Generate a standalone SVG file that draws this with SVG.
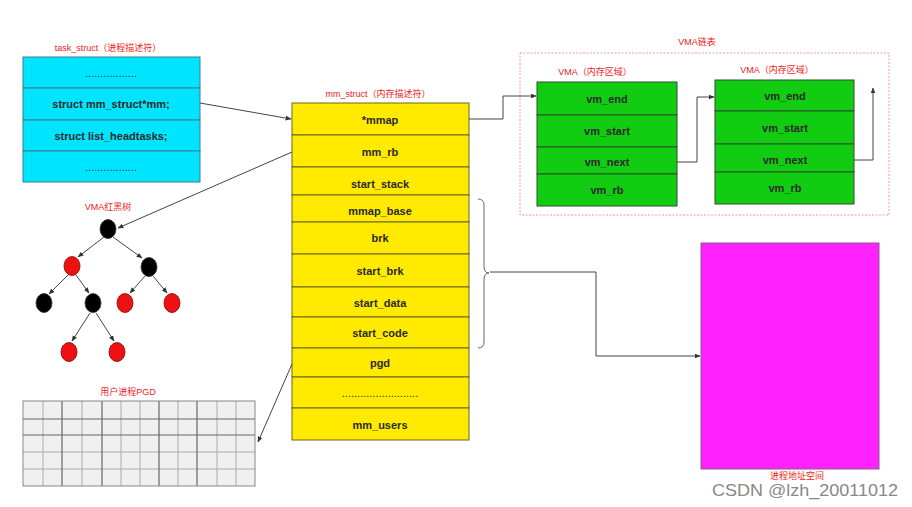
<svg xmlns="http://www.w3.org/2000/svg" width="912" height="507" viewBox="0 0 912 507">
<defs>
<marker id="arr" viewBox="0 0 10 10" refX="9" refY="5" markerWidth="6" markerHeight="6" orient="auto-start-reverse" markerUnits="userSpaceOnUse">
<path d="M0,1 L10,5 L0,9 z" fill="#333"/>
</marker>
<style>
.t{font-family:"Liberation Sans","Noto Sans CJK SC",sans-serif;font-size:11px;font-weight:bold;fill:#2a2a2a;text-anchor:middle;dominant-baseline:central}
.ti{font-family:"Liberation Sans","Noto Sans CJK SC",sans-serif;font-size:9px;fill:#f02020;text-anchor:middle;dominant-baseline:central}
.cy{fill:#00E5FF;stroke:#3b7f8f;stroke-width:1}
.ye{fill:#FFEA00;stroke:#6b6520;stroke-width:1}
.gr{fill:#11CC11;stroke:#2f4f2f;stroke-width:1}
.c{fill:none;stroke:#444;stroke-width:1}
.rb{fill:#ee1111;stroke:#800;stroke-width:0.8}
.bk{fill:#000;stroke:#333;stroke-width:0.8}
.g1{stroke:#aaa;stroke-width:1}
.g2{stroke:#666;stroke-width:1.2}
</style>
</defs>
<rect width="912" height="507" fill="#fff"/>

<g id="task_struct">
<text class="ti" x="108" y="48">task_struct（进程描述符）</text>
<rect class="cy" x="23" y="57" width="177" height="31"/>
<rect class="cy" x="23" y="88" width="177" height="32"/>
<rect class="cy" x="23" y="120" width="177" height="31"/>
<rect class="cy" x="23" y="151" width="177" height="31"/>
<text class="t" x="111" y="73" style="font-weight:normal">.................</text>
<text class="t" x="111" y="104">struct mm_struct*mm;</text>
<text class="t" x="111" y="136">struct list_headtasks;</text>
<text class="t" x="111" y="167" style="font-weight:normal">.................</text>
</g>

<g id="mm_struct">
<text class="ti" x="378" y="94">mm_struct（内存描述符）</text>
<rect class="ye" x="292" y="103" width="177" height="32"/>
<rect class="ye" x="292" y="135" width="177" height="32"/>
<rect class="ye" x="292" y="167" width="177" height="28"/>
<rect class="ye" x="292" y="195" width="177" height="27"/>
<rect class="ye" x="292" y="222" width="177" height="32"/>
<rect class="ye" x="292" y="254" width="177" height="33"/>
<rect class="ye" x="292" y="287" width="177" height="30"/>
<rect class="ye" x="292" y="317" width="177" height="31"/>
<rect class="ye" x="292" y="348" width="177" height="29"/>
<rect class="ye" x="292" y="377" width="177" height="31"/>
<rect class="ye" x="292" y="408" width="177" height="32"/>
<text class="t" x="380" y="120">*mmap</text>
<text class="t" x="380" y="152">mm_rb</text>
<text class="t" x="380" y="184">start_stack</text>
<text class="t" x="380" y="211">mmap_base</text>
<text class="t" x="380" y="238">brk</text>
<text class="t" x="380" y="271">start_brk</text>
<text class="t" x="380" y="303">start_data</text>
<text class="t" x="380" y="333">start_code</text>
<text class="t" x="380" y="363">pgd</text>
<text class="t" x="380" y="393" style="font-weight:normal">.........................</text>
<text class="t" x="380" y="425">mm_users</text>
</g>

<g id="vma_list">
<rect x="520" y="53" width="369" height="162" fill="none" stroke="#f08080" stroke-width="0.8" stroke-dasharray="2,1.5"/>
<text class="ti" x="697" y="42">VMA链表</text>
</g>

<g id="vma1">
<text class="ti" x="595" y="72">VMA（内存区域）</text>
<rect class="gr" x="537" y="82" width="140" height="33"/>
<rect class="gr" x="537" y="115" width="140" height="32"/>
<rect class="gr" x="537" y="147" width="140" height="27"/>
<rect class="gr" x="537" y="174" width="140" height="32"/>
<text class="t" x="607" y="99">vm_end</text>
<text class="t" x="607" y="131">vm_start</text>
<text class="t" x="607" y="162">vm_next</text>
<text class="t" x="607" y="190">vm_rb</text>
</g>

<g id="vma2">
<text class="ti" x="777" y="70">VMA（内存区域）</text>
<rect class="gr" x="715" y="80" width="139" height="31"/>
<rect class="gr" x="715" y="111" width="139" height="33"/>
<rect class="gr" x="715" y="144" width="139" height="28"/>
<rect class="gr" x="715" y="172" width="139" height="32"/>
<text class="t" x="785" y="96">vm_end</text>
<text class="t" x="785" y="128">vm_start</text>
<text class="t" x="785" y="160">vm_next</text>
<text class="t" x="785" y="188">vm_rb</text>
</g>

<g id="address_space">
<rect x="701" y="243" width="178" height="226" fill="#FF22FF" stroke="#8a5a8a" stroke-width="1"/>
<text class="ti" x="797" y="476">进程地址空间</text>
</g>

<g id="rbtree">
<text class="ti" x="108" y="207">VMA红黑树</text>
<g class="c">
<line x1="104" y1="237" x2="78" y2="257" marker-end="url(#arr)"/>
<line x1="113" y1="237" x2="142" y2="258" marker-end="url(#arr)"/>
<line x1="68" y1="275" x2="49" y2="294" marker-end="url(#arr)"/>
<line x1="76" y1="275" x2="89" y2="293" marker-end="url(#arr)"/>
<line x1="145" y1="276" x2="130" y2="293" marker-end="url(#arr)"/>
<line x1="153" y1="276" x2="167" y2="293" marker-end="url(#arr)"/>
<line x1="90" y1="313" x2="72" y2="341" marker-end="url(#arr)"/>
<line x1="96" y1="313" x2="114" y2="341" marker-end="url(#arr)"/>
</g>
<ellipse class="bk" cx="108" cy="229" rx="8" ry="9.5"/>
<ellipse class="rb" cx="72" cy="266" rx="8" ry="9.5"/>
<ellipse class="bk" cx="149" cy="267" rx="8" ry="9.5"/>
<ellipse class="bk" cx="44" cy="303" rx="8" ry="9.5"/>
<ellipse class="bk" cx="93" cy="303" rx="8" ry="9.5"/>
<ellipse class="rb" cx="125" cy="303" rx="8" ry="9.5"/>
<ellipse class="rb" cx="172" cy="303" rx="8" ry="9.5"/>
<ellipse class="rb" cx="69" cy="352" rx="8" ry="9.5"/>
<ellipse class="rb" cx="117" cy="352" rx="8" ry="9.5"/>
</g>

<g id="pgd_table">
<text class="ti" x="128" y="392">用户进程PGD</text>
<rect x="23" y="401" width="232" height="85" fill="#f0f0f0"/>
<g class="g1">
<line x1="43" y1="401" x2="43" y2="486"/>
<line x1="82" y1="401" x2="82" y2="486"/>
<line x1="121" y1="401" x2="121" y2="486"/>
<line x1="140" y1="401" x2="140" y2="486"/>
<line x1="178" y1="401" x2="178" y2="486"/>
<line x1="217" y1="401" x2="217" y2="486"/>
<line x1="236" y1="401" x2="236" y2="486"/>
<line x1="23" y1="452" x2="255" y2="452"/>
<line x1="23" y1="469" x2="255" y2="469"/>
</g>
<g class="g2">
<line x1="62" y1="401" x2="62" y2="486"/>
<line x1="102" y1="401" x2="102" y2="486"/>
<line x1="159" y1="401" x2="159" y2="486"/>
<line x1="197" y1="401" x2="197" y2="486"/>
<line x1="23" y1="419" x2="255" y2="419"/>
<line x1="23" y1="435" x2="255" y2="435"/>
</g>
<rect x="23" y="401" width="232" height="85" fill="none" stroke="#888" stroke-width="1"/>
</g>

<g id="connectors" class="c">
<line x1="200" y1="103" x2="291" y2="119" marker-end="url(#arr)"/>
<line x1="292" y1="152" x2="118" y2="228" marker-end="url(#arr)"/>
<line x1="292" y1="364" x2="258" y2="442" marker-end="url(#arr)"/>
<polyline points="469,119 503,119 503,96 536,96" marker-end="url(#arr)"/>
<polyline points="677,162 697,162 697,97 714,97" marker-end="url(#arr)"/>
<polyline points="854,160 873,160 873,88" marker-end="url(#arr)"/>
<path d="M478,199 Q484,199 484,205 L484,266 Q484,273 489,273 Q484,273 484,280 L484,342 Q484,348 478,348" fill="none" stroke="#666" stroke-width="1"/>
<polyline points="490,272 596,272 596,356 700,356" marker-end="url(#arr)"/>
</g>

<text x="712" y="490" textLength="186" lengthAdjust="spacingAndGlyphs" style="font-family:'Liberation Sans',sans-serif;font-size:17px;fill:#888;dominant-baseline:central">CSDN @lzh_20011012</text>
</svg>
